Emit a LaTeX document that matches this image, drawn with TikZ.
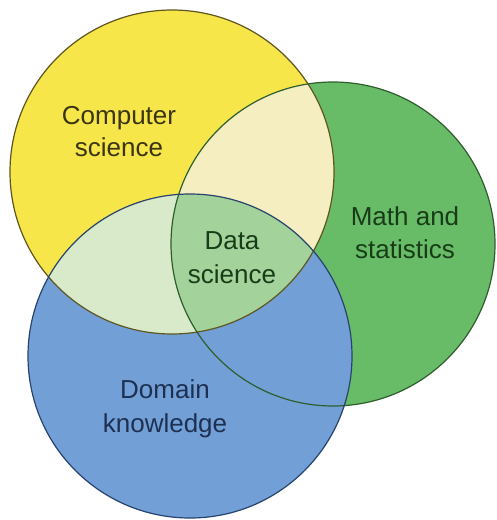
\documentclass[tikz,border=0pt]{standalone}
\usepackage{fontspec}
\setmainfont{Liberation Sans}
\definecolor{cyel}{HTML}{F7E64A}
\definecolor{cgrn}{HTML}{68BC68}
\definecolor{cblu}{HTML}{72A0D6}
\definecolor{ccream}{HTML}{F4EEC0}
\definecolor{cpale}{HTML}{D8EAC9}
\definecolor{ctri}{HTML}{A3D29A}
\definecolor{lyel}{HTML}{5E5520}
\definecolor{lgrn}{HTML}{2E5E2E}
\definecolor{lblu}{HTML}{27436E}
\definecolor{tyel}{HTML}{3A3512}
\definecolor{tgrn}{HTML}{183C18}
\definecolor{tblu}{HTML}{1E3052}
\tikzset{
  lbl/.style={font=\fontsize{26}{31}\selectfont, anchor=base, inner sep=0pt},
  rim/.style={line width=1.2pt}
}
\begin{document}
\begin{tikzpicture}[x=1pt,y=-1pt]
\useasboundingbox (0,0) rectangle (497,520);
\fill[white] (0,0) rectangle (497,520);
\coordinate (Y) at (172,172);
\coordinate (G) at (333,244);
\coordinate (B) at (190,356);
\def\rr{162pt}
% base fills
\fill[cyel] (Y) circle[radius=\rr];
\fill[cgrn] (G) circle[radius=\rr];
\fill[cblu] (B) circle[radius=\rr];
% yellow & green
\begin{scope}
  \clip (Y) circle[radius=\rr];
  \fill[ccream] (G) circle[radius=\rr];
  \fill[cpale] (B) circle[radius=\rr];
  \clip (G) circle[radius=\rr];
  \fill[ctri] (B) circle[radius=\rr];
\end{scope}
% outlines
\draw[rim, lyel] (Y) circle[radius=\rr];
\draw[rim, lgrn] (G) circle[radius=\rr];
\draw[rim, lblu] (B) circle[radius=\rr];
% labels
\node[lbl, text=tyel] (cs1) at (119,124) {Computer};
\node[lbl, text=tyel] (cs2) at (119,156) {science};
\node[lbl, text=tgrn] (ds1) at (232,249) {Data};
\node[lbl, text=tgrn] (ds2) at (232,283) {science};
\node[lbl, text=tgrn] (ms1) at (405,225) {Math and};
\node[lbl, text=tgrn] (ms2) at (405,258) {statistics};
\node[lbl, text=tblu] (dk1) at (165,398) {Domain};
\node[lbl, text=tblu] (dk2) at (165,432) {knowledge};
\end{tikzpicture}
\end{document}
